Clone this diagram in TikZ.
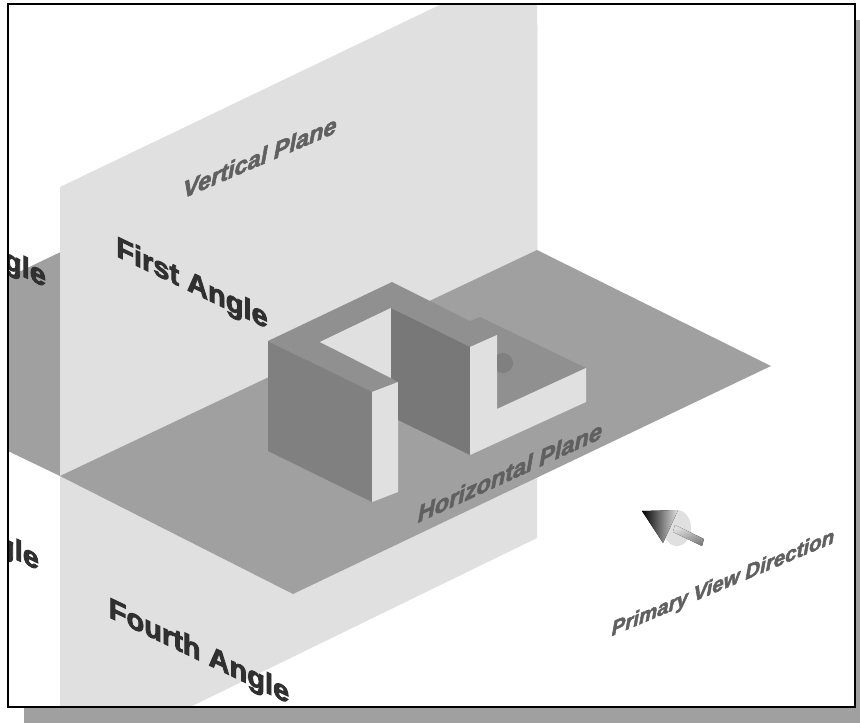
\documentclass[tikz,border=0pt]{standalone}
\usepackage{fontspec}
\setmainfont{Liberation Sans}[BoldFeatures={FakeBold=3},BoldItalicFeatures={FakeBold=2.5}]
\definecolor{planelight}{HTML}{E0E0E0}
\definecolor{planedark}{HTML}{A0A0A0}
\definecolor{topface}{HTML}{909090}
\definecolor{sideface}{HTML}{808080}
\definecolor{innerface}{HTML}{787878}
\definecolor{boldtext}{HTML}{303030}
\definecolor{greytext}{HTML}{606060}
\tikzset{
  angletext/.style={font=\bfseries\fontsize{29}{29}\selectfont,text=boldtext,transform shape,inner sep=0pt},
  planetext/.style={font=\bfseries\itshape\fontsize{23.5}{23.5}\selectfont,text=greytext,transform shape,inner sep=0pt},
}
\begin{document}
\begin{tikzpicture}[x=1pt,y=-1pt]
\useasboundingbox (0,0) rectangle (860,723);
\fill[white] (0,0) rectangle (860,723);

% shadow of the frame
\fill[planedark] (24,708) rectangle (860,723);
\fill[planedark] (855,20) rectangle (860,723);

\begin{scope}
\clip (8,4) rectangle (855,707);
\fill[white] (8,4) rectangle (855,707);

% planes
\fill[planedark] (-40,300) -- (537,25) -- (537,250) -- (60,476) -- (-40,428) -- cycle;
\fill[planelight] (60,187) -- (450,0) -- (537,0) -- (537,538) -- (190,707) -- (60,707) -- cycle;
\fill[planedark] (60,476) -- (293,594) -- (771,366) -- (537,250) -- cycle;

% block
\fill[topface] (268,341) -- (392,282) -- (470,321) -- (480,317) -- (586,368) -- (497,409) -- (497,335) -- (470,347) -- (391,308) -- (320,342) -- (398,382) -- (372,392) -- cycle;
\fill[planelight] (320,342) -- (391,308) -- (391,378) -- cycle;
\fill[sideface] (268,341) -- (372,392) -- (372,502) -- (268,451) -- cycle;
\fill[planelight] (372,392) -- (398,382) -- (398,492) -- (372,502) -- cycle;
\fill[innerface] (391,308) -- (470,347) -- (470,455) -- (398,420) -- (398,382) -- (391,378) -- cycle;
\fill[planelight] (470,347) -- (497,335) -- (497,409) -- (586,368) -- (586,402) -- (470,455) -- cycle;
\begin{scope}
\clip (497,340) rectangle (520,380);
\fill[sideface] (503,363) ellipse (10 and 10);
\end{scope}

% texts
\node[angletext,cm={1,-0.48,0,1,(192,285)}] (firstangle) at (0,0) {First Angle};
\node[angletext,cm={1,-0.48,0,1,(199,653)}] (fourthangle) at (0,0) {Fourth Angle};
\node[angletext,cm={1,-0.48,0,1,(25,270)}] (secondangle) at (0,0) {gle};
\node[angletext,cm={1,-0.48,0,1,(18,553)}] (thirdangle) at (0,0) {gle};
\node[planetext,cm={1,0.43,0,1,(260,157)}] (verticalplane) at (0,0) {Vertical Plane};
\node[planetext,cm={1,0.46,0,1,(510,472)}] (horizontalplane) at (0,0) {Horizontal Plane};
\node[planetext,font=\bfseries\itshape\fontsize{20.5}{20.5}\selectfont,cm={1,0.42,0,1,(723,584)}] (viewdirection) at (0,0) {Primary View Direction};

% view direction arrow
\fill[planelight] (677,528) ellipse (14 and 18);
\fill[left color=black,right color=planelight] (642,511) -- (678,510) -- (663,543) -- cycle;
\fill[top color=planelight,bottom color=sideface,shading angle=25] (675,525) -- (704,539) -- (702,546) -- (673,532) -- cycle;
\end{scope}

% frame
\draw[line width=1.8pt] (8,4) rectangle (855,707);
\end{tikzpicture}
\end{document}
